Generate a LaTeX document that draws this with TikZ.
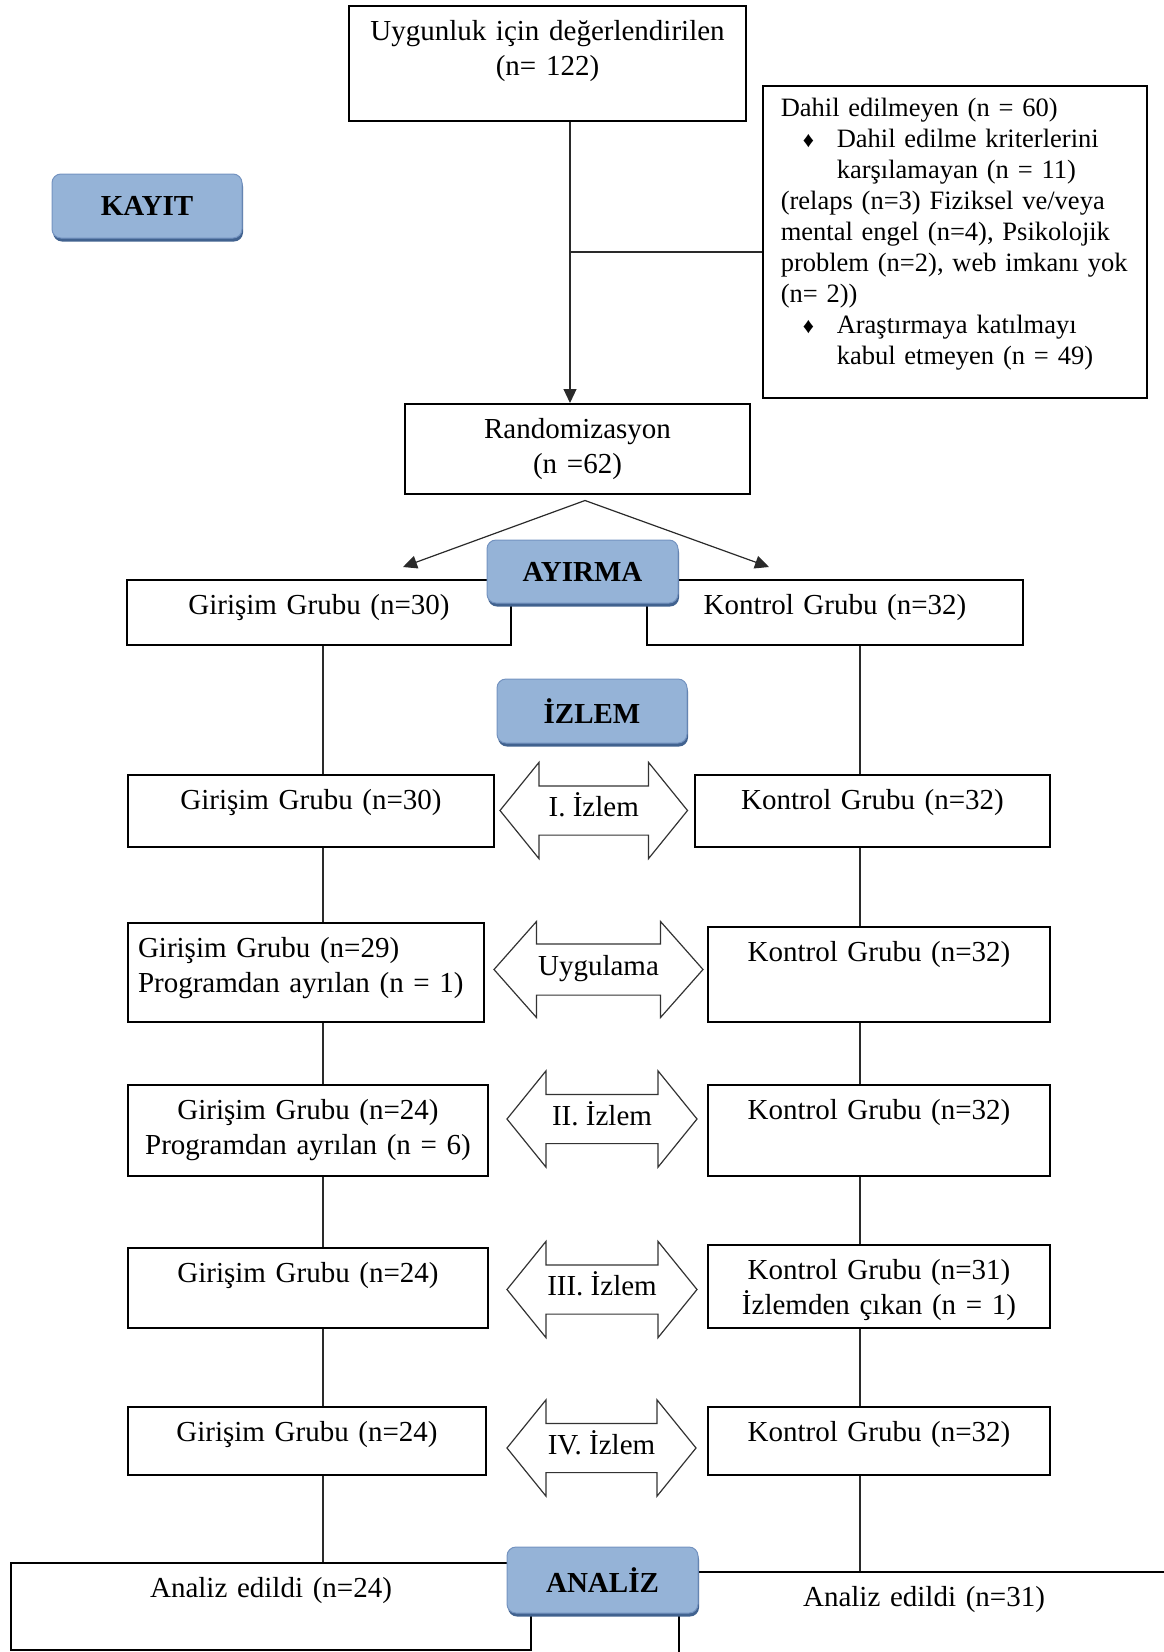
\documentclass[tikz,border=0pt]{standalone}
\usepackage{fontspec}
\setmainfont{Liberation Serif}
\usetikzlibrary{shapes.arrows, arrows.meta, shadows}
\definecolor{stagefill}{HTML}{95B3D7}
\definecolor{stageedge}{HTML}{7493C0}
\definecolor{stageshadow}{HTML}{41628F}
\definecolor{linegray}{HTML}{2A2A2A}
\newcommand{\itembul}{{\fontsize{22}{22}\selectfont\raisebox{0.5pt}{♦}}}

\begin{document}
\begin{tikzpicture}[
  x=1pt, y=-1pt,
  font=\fontsize{29}{35}\selectfont,
  box/.style={draw, line width=1.5pt, anchor=north, align=center, inner xsep=6pt, inner ysep=0pt, text height=35pt},
  stage/.style={rectangle, rounded corners=9pt, draw=stageedge, line width=1pt, fill=stagefill, minimum width=190pt, minimum height=64pt, font=\fontsize{29}{35}\selectfont\bfseries, drop shadow={shadow xshift=1pt, shadow yshift=-3.5pt, fill=stageshadow, opacity=1}},
  izlem/.style={double arrow, draw=black!80, line width=1.2pt, double arrow head extend=23.5pt, double arrow tip angle=102, minimum width=95pt, text height=18pt, text depth=6pt, inner ysep=12pt, inner xsep=1pt},
  link/.style={draw=linegray, line width=1.2pt},
  flow/.style={link, -{Triangle[length=14pt, width=13pt]}}
]
  \useasboundingbox (0,0) rectangle (1164,1652);
  \clip (0,0) rectangle (1164,1652);

  % Enrollment
  \node[box, text width=385pt, text depth=80pt] (eval) at (547.5,5) {Uygunluk için değerlendirilen\\(n= 122)};
  \node[box, anchor=north west, align=left, inner xsep=18pt, text width=348pt, text height=31pt, text depth=281pt, font=\fontsize{26.5}{31}\selectfont] (excl) at (762,85) {Dahil edilmeyen (n = 60)\\
    \hspace*{22pt}\makebox[34pt][l]{\itembul}Dahil edilme kriterlerini\\
    \hspace*{56pt}karşılamayan (n = 11)\\
    (relaps (n=3) Fiziksel ve/veya\\
    mental engel (n=4), Psikolojik\\
    problem (n=2), web imkanı yok\\
    (n= 2))\\
    \hspace*{22pt}\makebox[34pt][l]{\itembul}Araştırmaya katılmayı\\
    \hspace*{56pt}kabul etmeyen (n = 49)};
  \node[box, text width=333pt, text depth=55pt] (rand) at (577.5,403) {Randomizasyon\\(n =62)};

  % Allocation
  \node[box, text width=372pt, text depth=30pt] (g0) at (319,579) {Girişim Grubu (n=30)};
  \node[box, text width=364pt, text depth=30pt] (k0) at (835,579) {Kontrol Grubu (n=32)};

  % Follow-up
  \node[box, text width=354pt, text depth=37pt] (g1) at (311,774) {Girişim Grubu (n=30)};
  \node[box, text width=343pt, text depth=37pt] (k1) at (872.5,774) {Kontrol Grubu (n=32)};
  \node[box, align=left, inner xsep=10pt, text width=336pt, text depth=64pt] (g2) at (306,922) {Girişim Grubu (n=29)\\Programdan ayrılan (n = 1)};
  \node[box, text width=330pt, text depth=60pt] (k2) at (879,926) {Kontrol Grubu (n=32)};
  \node[box, text width=348pt, text depth=56pt] (g3) at (308,1084) {Girişim Grubu (n=24)\\Programdan ayrılan (n = 6)};
  \node[box, text width=330pt, text depth=56pt] (k3) at (879,1084) {Kontrol Grubu (n=32)};
  \node[box, text width=348pt, text depth=45pt] (g4) at (308,1247) {Girişim Grubu (n=24)};
  \node[box, text width=330pt, text depth=48pt] (k4) at (879,1244) {Kontrol Grubu (n=31)\\İzlemden çıkan (n = 1)};
  \node[box, text width=346pt, text depth=33pt] (g5) at (307,1406) {Girişim Grubu (n=24)};
  \node[box, text width=330pt, text depth=33pt] (k5) at (879,1406) {Kontrol Grubu (n=32)};

  % Analysis
  \node[box, text width=508pt, text depth=52pt] (al) at (271,1562) {Analiz edildi (n=24)};
  \node[box, text width=478pt, text depth=65pt] (ar) at (924,1571) {Analiz edildi (n=31)};

  % Follow-up arrows
  \node[izlem, minimum height=187.5pt] (a1) at (593.75,810.5) {I. İzlem};
  \node[izlem, minimum height=209pt, double arrow tip angle=97, double arrow head extend=22.5pt, inner ysep=13pt] (a2) at (598.5,969.5) {Uygulama};
  \node[izlem, minimum height=190pt] (a3) at (602,1119) {II. İzlem};
  \node[izlem, minimum height=190pt] (a4) at (602,1289.5) {III. İzlem};
  \node[izlem, minimum height=189pt] (a5) at (601.5,1448) {IV. İzlem};

  % Connectors
  \coordinate (spine) at (570,0);
  \coordinate (branch) at (570,252);
  \coordinate (colL) at (323,0);
  \coordinate (colR) at (860,0);
  \coordinate (split) at ([xshift=7.5pt, yshift=-6pt]rand.south);
  \coordinate (toG) at (403,567);
  \coordinate (toK) at (769,567);
  \draw[flow] (eval.south -| spine) -- (rand.north -| spine);
  \draw[link] (branch) -- (branch -| excl.west);
  \draw[flow] (split) -- (toG);
  \draw[flow] (split) -- (toK);
  \foreach \a/\b in {g0/g1, g1/g2, g2/g3, g3/g4, g4/g5, g5/al}
    \draw[link] (\a.south -| colL) -- (\b.north -| colL);
  \foreach \a/\b in {k0/k1, k1/k2, k2/k3, k3/k4, k4/k5, k5/ar}
    \draw[link] (\a.south -| colR) -- (\b.north -| colR);

  % Stage labels
  \node[stage] (kayit) at (147,206) {KAYIT};
  \node[stage, minimum width=191pt, minimum height=63pt] (ayirma) at (582.5,571.5) {AYIRMA};
  \node[stage] (izlemlab) at (592,711) {İZLEM};
  \node[stage, minimum width=191pt, minimum height=66pt] (analiz) at (602.5,1580) {ANALİZ};
\end{tikzpicture}
\end{document}
